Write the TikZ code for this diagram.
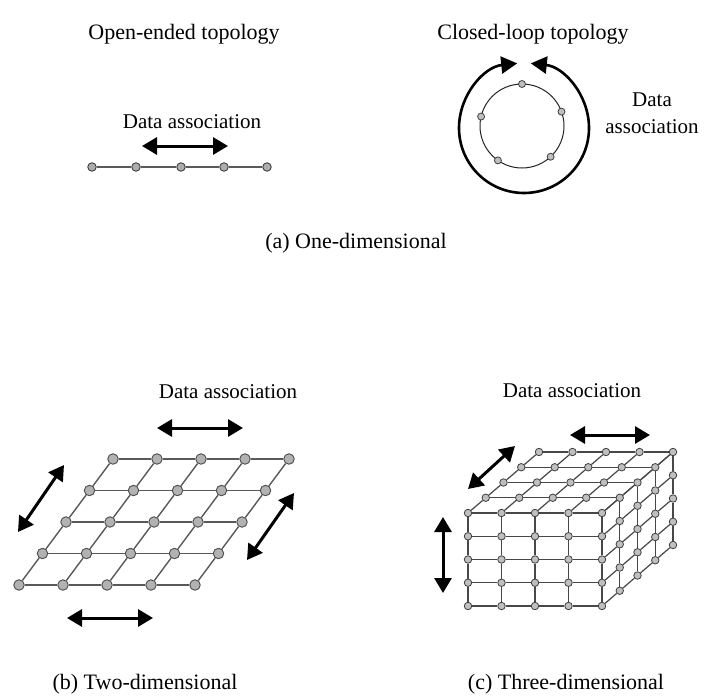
\documentclass[tikz,border=0pt]{standalone}
\usepackage{fontspec}
\setmainfont{Liberation Serif}
\usetikzlibrary{arrows.meta,calc}
\begin{document}
\begin{tikzpicture}[x=1pt,y=-1pt,
  lbl/.style={font=\fontsize{22}{24}\selectfont, inner sep=0pt},
  lbls/.style={font=\fontsize{21}{23}\selectfont, inner sep=0pt},
  darr/.style={line width=3pt, {Triangle[length=15pt,width=17pt]}-{Triangle[length=15pt,width=17pt]}},
  carr/.style={line width=2.6pt, -{Triangle[length=16pt,width=17pt]}},
  dotA/.style={circle, draw=black!75, fill=black!32, line width=0.9pt, minimum size=8.5pt, inner sep=0pt},
  dotB/.style={circle, draw=black!70, fill=black!30, line width=0.9pt, minimum size=10.5pt, inner sep=0pt},
  dotC/.style={circle, draw=black!75, fill=black!25, line width=0.8pt, minimum size=7.5pt, inner sep=0pt},
  dotL/.style={circle, draw=black!75, fill=black!25, line width=0.8pt, minimum size=7pt, inner sep=0pt},
  gridA/.style={draw=black!65, line width=1.4pt},
  gridC/.style={draw=black!72, line width=1.2pt}
]
\useasboundingbox (0,0) rectangle (704,696);

% ---------- (a) open-ended ----------
\node[lbl] (tOpen) at (184,34) {Open-ended topology};
\node[lbl] (tClosed) at (533,34) {Closed-loop topology};
\node[lbls] (daA) at (192,122) {Data association};
\foreach \n/\x in {1/92,2/136,3/181,4/224,5/267}
  \node[dotA] (a\n) at (\x,167) {};
\foreach \n/\m in {1/2,2/3,3/4,4/5}
  \draw[gridA] (a\n) -- (a\m);
\coordinate (aL) at (142,146);
\coordinate (aR) at (228,146);
\draw[darr] (aL) -- (aR);

% ---------- (a) closed loop ----------
\coordinate (cc) at (522,126);
\coordinate (oc) at (524,128);
\draw[black!85, line width=1pt] (cc) circle [radius=42];
\foreach \n/\ang in {1/-90,2/-20,3/-167,4/125,5/47}
  \node[dotL] (l\n) at ($(cc)+(\ang:42)$) {};
\coordinate (ob) at ($(oc)+(90:65)$);
\draw[carr] (ob) arc (90:264:65);
\draw[carr] (ob) arc (90:-84:65);
\node[lbls] (daC1) at (652,100) {Data};
\node[lbls] (daC2) at (652,127) {association};
\node[lbl] (capA) at (356,243) {(a) One-dimensional};

% ---------- (b) two-dimensional ----------
\node[lbls] (daB) at (228,392) {Data association};
\foreach \rr in {0,...,4}
  \foreach \cc in {0,...,4}
    \node[dotB] (b-\cc-\rr) at (19+44*\cc+23.5*\rr, 585-31.5*\rr) {};
\foreach \rr in {0,...,4}{
  \foreach \p/\q in {0/1,1/2,2/3,3/4}{
    \draw[gridA] (b-\p-\rr) -- (b-\q-\rr);
    \draw[gridA] (b-\rr-\p) -- (b-\rr-\q);
  }
}
\coordinate (bt1) at (157,428); \coordinate (bt2) at (243,428);
\coordinate (bb1) at (67,618);  \coordinate (bb2) at (153,618);
\coordinate (bl1) at (18,532);  \coordinate (bl2) at (64,465);
\coordinate (br1) at (247,560); \coordinate (br2) at (294,493);
\draw[darr] (bt1) -- (bt2);
\draw[darr] (bb1) -- (bb2);
\draw[darr] (bl1) -- (bl2);
\draw[darr] (br1) -- (br2);
\node[lbl] (capB) at (145,684) {(b) Two-dimensional};

% ---------- (c) three-dimensional ----------
\node[lbls] (daD) at (572,391) {Data association};
% front face j=0
\foreach \ii in {0,...,4}
  \foreach \kk in {0,...,4}
    \node[dotC] (c-\ii-0-\kk) at (468+33.5*\ii, 513+23.25*\kk) {};
% top face k=0
\foreach \ii in {0,...,4}
  \foreach \jj in {1,...,4}
    \node[dotC] (c-\ii-\jj-0) at (468+33.5*\ii+17.75*\jj, 513-15.25*\jj) {};
% right face i=4
\foreach \jj in {1,...,4}
  \foreach \kk in {1,...,4}
    \node[dotC] (c-4-\jj-\kk) at (468+134+17.75*\jj, 513+23.25*\kk-15.25*\jj) {};
\foreach \ss in {0,...,4}{
  \foreach \p/\q in {0/1,1/2,2/3,3/4}{
    % front face
    \draw[gridC] (c-\p-0-\ss) -- (c-\q-0-\ss);
    \draw[gridC] (c-\ss-0-\p) -- (c-\ss-0-\q);
    % top face
    \draw[gridC] (c-\p-\ss-0) -- (c-\q-\ss-0);
    \draw[gridC] (c-\ss-\p-0) -- (c-\ss-\q-0);
    % right face
    \draw[gridC] (c-4-\p-\ss) -- (c-4-\q-\ss);
    \draw[gridC] (c-4-\ss-\p) -- (c-4-\ss-\q);
  }
}
\coordinate (ct1) at (570,435); \coordinate (ct2) at (650,435);
\coordinate (cd1) at (468,489); \coordinate (cd2) at (515,446);
\coordinate (cv1) at (443,517); \coordinate (cv2) at (443,593);
\draw[darr] (ct1) -- (ct2);
\draw[darr] (cd1) -- (cd2);
\draw[darr] (cv1) -- (cv2);
\node[lbl] (capC) at (566,684) {(c) Three-dimensional};
\end{tikzpicture}
\end{document}
